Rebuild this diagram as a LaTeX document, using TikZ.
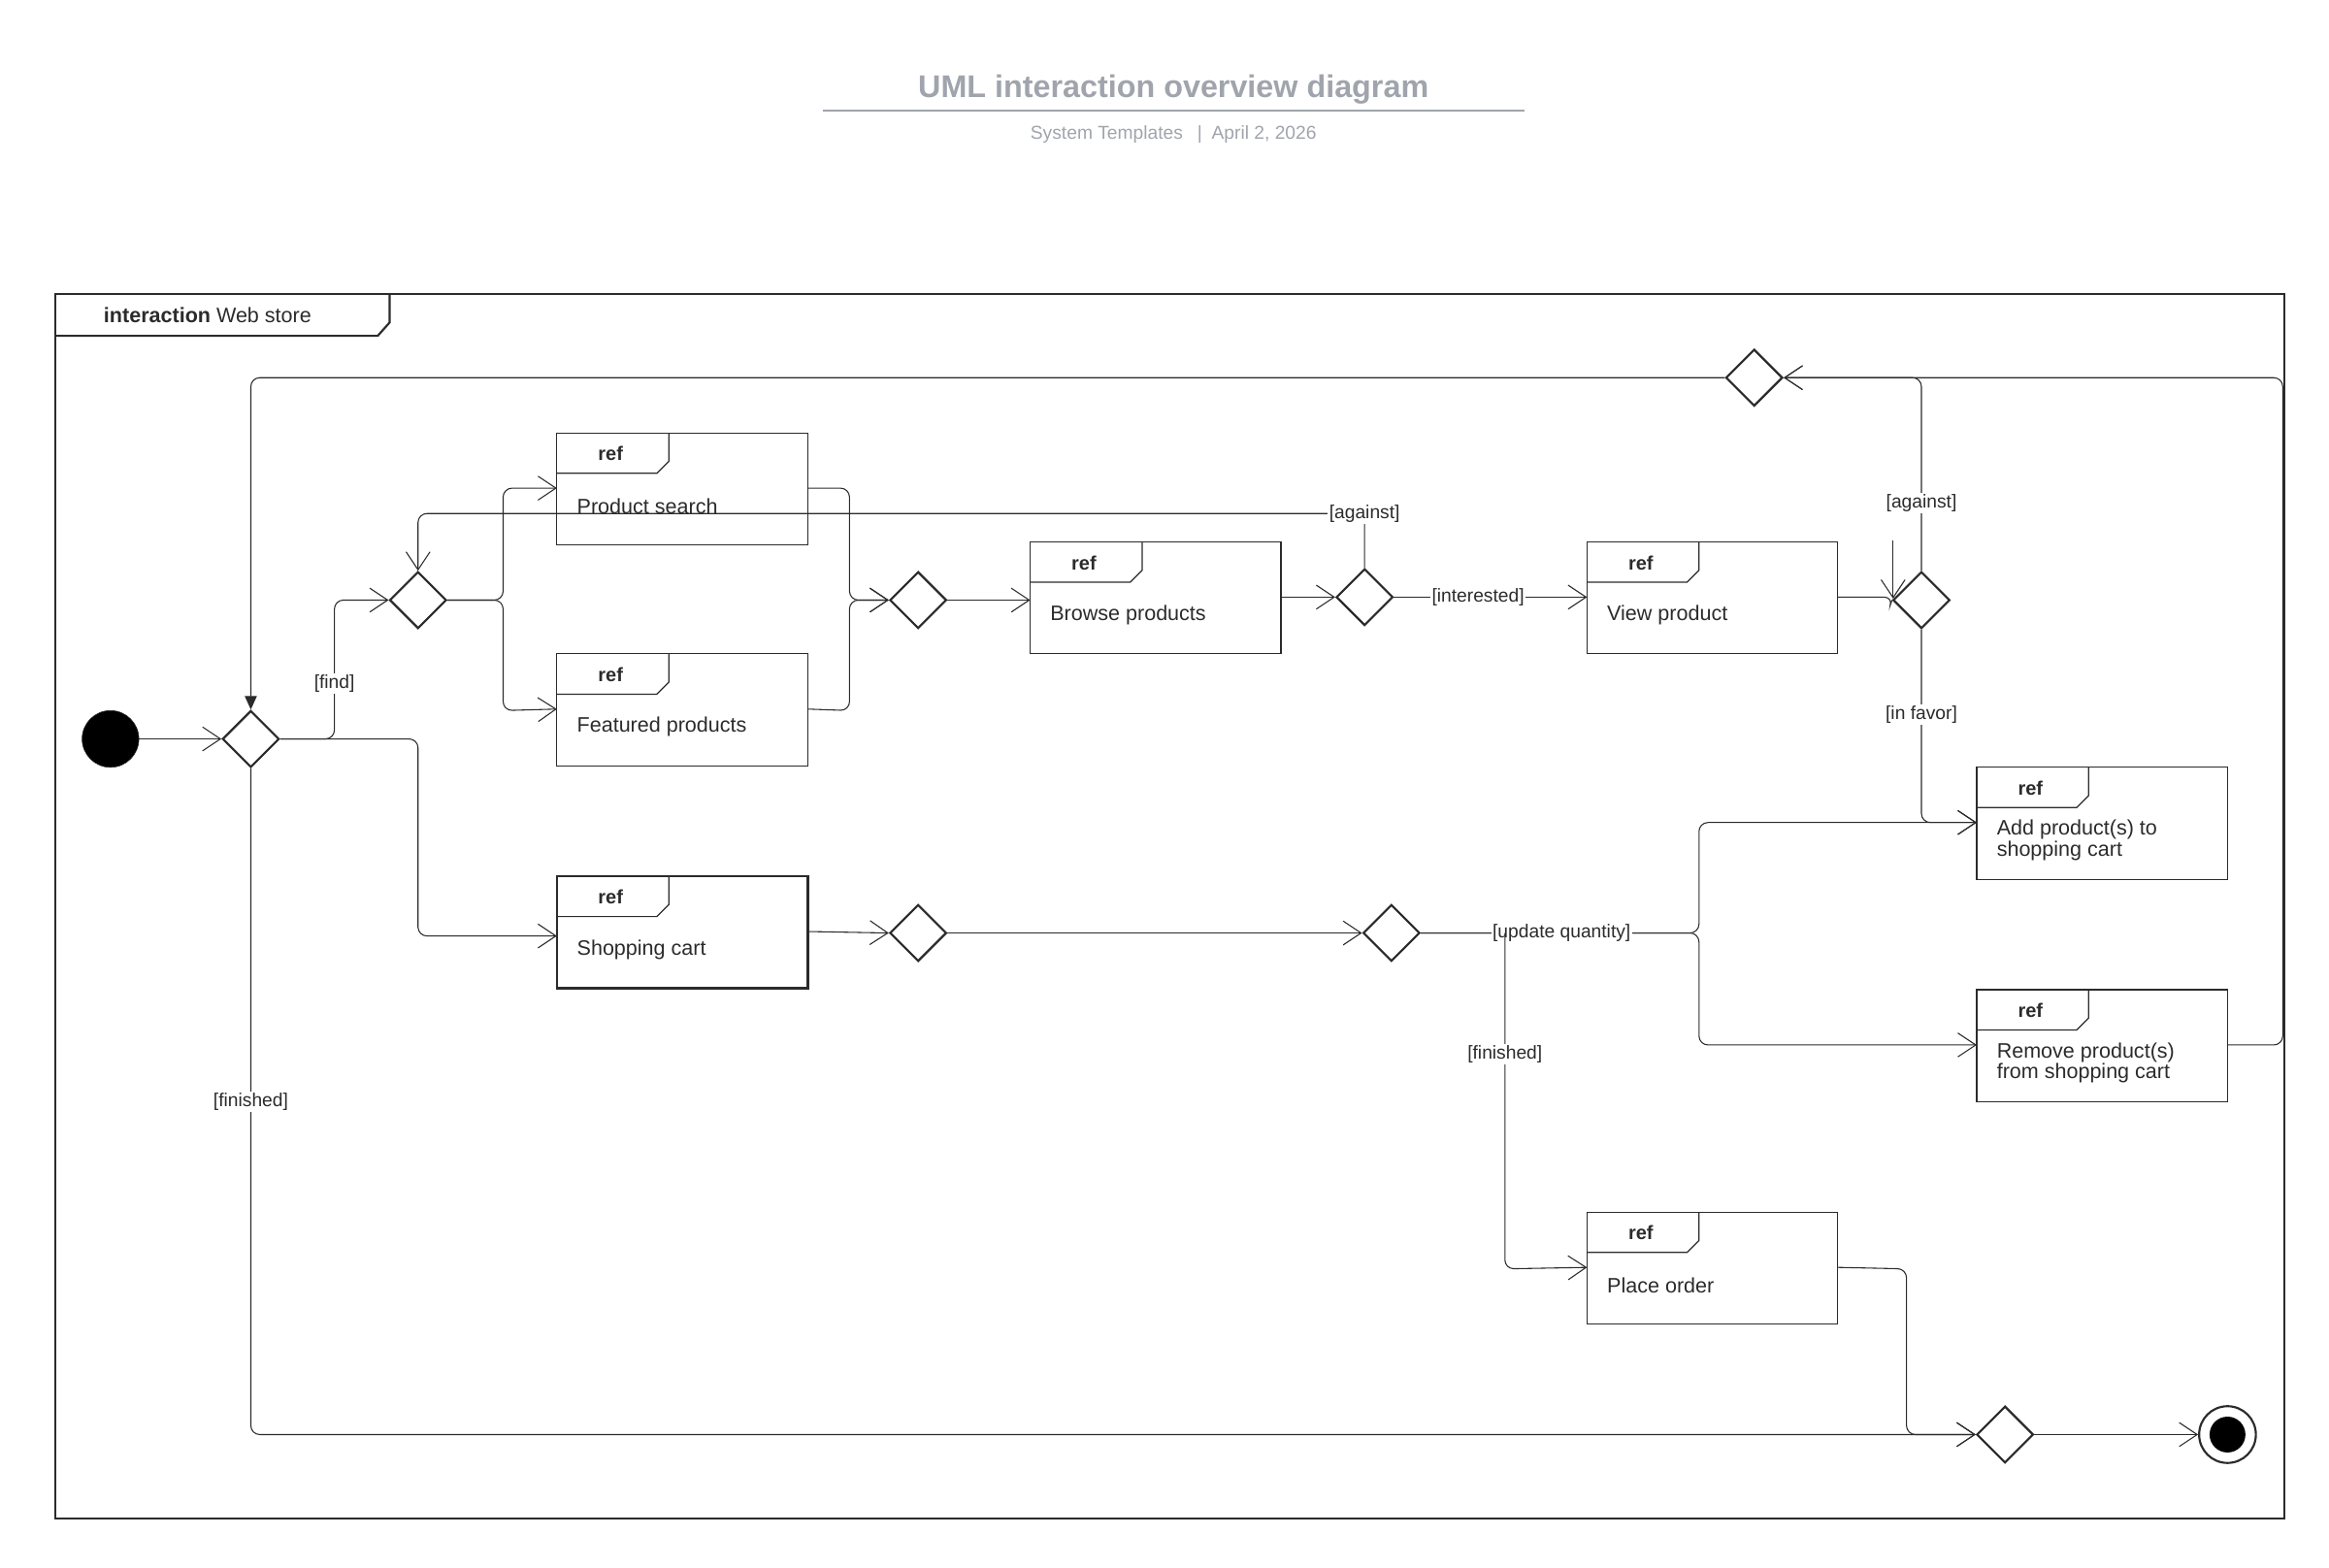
\documentclass[tikz,border=0pt]{standalone}
\usepackage{fontspec}
\setmainfont{Liberation Sans}
\usetikzlibrary{arrows.meta,shapes.geometric}
\definecolor{ink}{HTML}{2B2B2B}
\definecolor{gry}{HTML}{A0A4AC}
\begin{document}
\begin{tikzpicture}[x=1pt,y=-1pt,
  every node/.style={font=\fontsize{14}{16}\selectfont, text=ink},
  ln/.style={draw=ink, line width=0.7pt, rounded corners=6pt},
  ar/.style={ln, -{Straight Barb[length=12pt,width=16pt,line width=0.7pt]}},
  dec/.style={diamond, draw=ink, line width=1.4pt, minimum size=38pt, inner sep=0pt, fill=white},
  lab/.style={fill=white, inner sep=1pt, font=\fontsize{12.5}{14}\selectfont}]
\useasboundingbox (0,0) rectangle (1560,1050);
% title
\node[text=gry, font=\fontsize{21}{24}\selectfont\bfseries] (title) at (786,60) {UML interaction overview diagram};
\draw[gry, line width=1.2pt] (551,74) -- (1021,74);
\node[text=gry, font=\fontsize{12.5}{14}\selectfont] (sub) at (786,90) {System Templates \enspace\textcolor{gry}{|}\enspace April 2, 2026};
% frame
\draw[ink, line width=1.4pt] (37,197) rectangle (1530,1017);
\draw[ink, line width=1.4pt] (37,225) -- (253,225) -- (261,216) -- (261,197);
\node[anchor=west] (frm) at (66,211) {\textbf{interaction} Web store};
% refs
\newcommand{\refbox}[5][0.8pt]{%
  \draw[ink, line width=#1] (#2,#3) rectangle ++(168,75);
  \draw[ink, line width=0.8pt] (#2,#3+27) -- (#2+67,#3+27) -- (#2+75,#3+19) -- (#2+75,#3);
  \node[font=\fontsize{13}{15}\selectfont\bfseries] at (#2+36,#3+14) {ref};
  \node[anchor=west, align=left, font=\fontsize{14}{16}\selectfont] (#4) at (#2+10,#3+49) {#5};
  \coordinate (#4L) at (#2,#3+37); \coordinate (#4R) at (#2+168,#3+37);}
\refbox{373}{290}{ps}{Product search}
\refbox{373}{438}{fp}{Featured products}
\refbox[1.6pt]{373}{587}{sc}{Shopping cart}
\refbox{690}{363}{bp}{Browse products}
\refbox{1063}{363}{vp}{View product}
\refbox{1324}{514}{ap}{Add product(s) to\\[-2pt]shopping cart}
\refbox{1324}{663}{rp}{Remove product(s)\\[-2pt]from shopping cart}
\refbox{1063}{812}{po}{Place order}
% start / end
\node[circle, fill=black, draw=ink, minimum size=38pt, inner sep=0pt] (init) at (74,495) {};
\node[circle, draw=ink, line width=1.4pt, minimum size=38pt, inner sep=0pt] (fin) at (1492,961) {};
\node[circle, fill=black, minimum size=24pt, inner sep=0pt] (finc) at (1492,961) {};
% decisions
\node[dec] (d0) at (168,495) {};
\node[dec] (d1) at (280,402) {};
\node[dec] (d2) at (615,402) {};
\node[dec] (d3) at (914,400) {};
\node[dec] (d4) at (1287,402) {};
\node[dec] (d5) at (1175,253) {};
\node[dec] (d6) at (615,625) {};
\node[dec] (d7) at (932,625) {};
\node[dec] (d8) at (1343,961) {};
% connectors
\draw[ar] (init) -- (d0.west);
\draw[ar] (d0.east) -- (224,495) -- (224,402) -- (d1.west);
\node[lab] (lf) at (224,458) {[find]};
\draw[ar] (d0.east) -- (280,495) -- (280,627) -- (373,627);
\draw[ar] (d1.east) -- (337,402) -- (337,327) -- (psL);
\draw[ar] (d1.east) -- (337,402) -- (337,476) -- (fpL);
\draw[ar] (psR) -- (569,327) -- (569,402) -- (d2.west);
\draw[ar] (fpR) -- (569,476) -- (569,402) -- (d2.west);
\draw[ar] (d2.east) -- (bpL|-d2.east);
\draw[ar] (bpR) -- (d3.west);
\draw[ar] (d3.north) -- (914,344) -- (280,344) -- (d1.north);
\node[lab] (la1) at (914,344) {[against]};
\draw[ar] (d3.east) -- (vpL);
\node[lab] (lint) at (990,400) {[interested]};
\draw[ln] (vpR) -- (1268,400) -- (d4.west);
\coordinate (dang) at (1268,362);
\draw[ar] (dang) -- (1268,401);
\draw[ar] (d4.north) -- (1287,253) -- (d5.east);
\node[lab] (la2) at (1287,337) {[against]};
\draw[ar] (d4.south) -- (1287,551) -- (apL);
\node[lab] (lfav) at (1287,479) {[in favor]};
\draw[ar] (rpR) -- (1529,700) -- (1529,253) -- (d5.east);
\draw[ln, -{Triangle[length=9pt,width=8pt]}] (d5.west) -- (168,253) -- (d0.north);
\draw[ar] (scR) -- (d6.west);
\draw[ar] (d6.east) -- (d7.west);
\draw[ar] (d7.east) -- (1138,625) -- (1138,551) -- (apL);
\draw[ar] (d7.east) -- (1138,625) -- (1138,700) -- (rpL);
\node[lab] (luq) at (1046,625) {[update quantity]};
\draw[ar] (1008,625) -- (1008,850) -- (poL);
\node[lab] (lfi2) at (1008,706) {[finished]};
\draw[ar] (poR) -- (1277,850) -- (1277,961) -- (d8.west);
\draw[ar] (d0.south) -- (168,961) -- (d8.west);
\node[lab] (lfi1) at (168,738) {[finished]};
\draw[ar] (d8.east) -- (fin.west);
\end{tikzpicture}
\end{document}
